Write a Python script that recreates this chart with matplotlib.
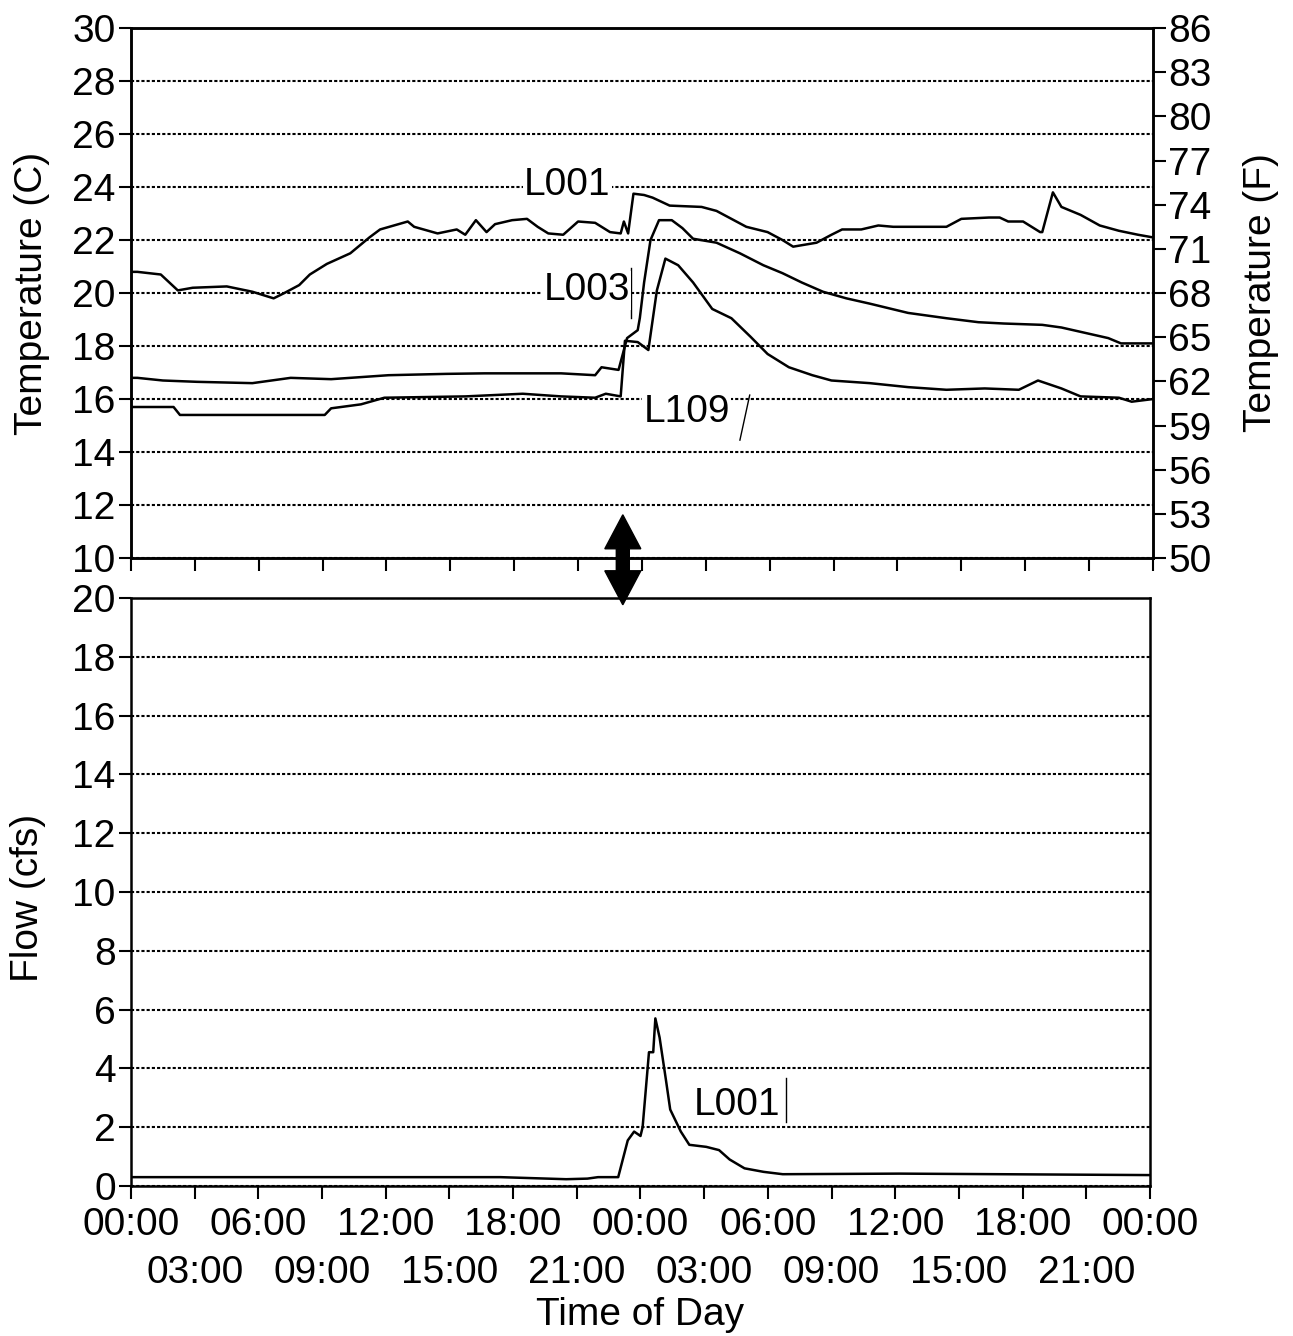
import matplotlib
matplotlib.use("Agg")
import matplotlib.pyplot as plt
from matplotlib.ticker import MultipleLocator
from matplotlib.patches import FancyArrow

plt.rcParams['font.family'] = ['Liberation Sans', 'DejaVu Sans']
plt.rcParams['font.size'] = 28

# ---- data (hours from start, values) ----
t_l001 = [0, 0.3, 1.4, 2.2, 2.9, 4.5, 5.7, 6.7, 7.2, 7.9, 8.4, 9.2, 10.3, 11.2, 11.7,
          13.0, 13.3, 14.4, 15.3, 15.7, 16.2, 16.7, 17.1, 17.9, 18.6, 19.1, 19.6, 20.3,
          21.0, 21.8, 22.5, 23.0, 23.15, 23.35, 23.6, 24.1, 24.5, 25.3, 26.8, 27.5, 28.2,
          28.9, 29.9, 30.6, 31.1, 32.2, 32.9, 33.4, 34.3, 35.1, 35.8, 38.3, 39.0, 40.3,
          40.8, 41.2, 41.9, 42.7, 42.8, 43.3, 43.7, 44.6, 45.5, 46.4, 47.3, 48.0]
c_l001 = [20.8, 20.8, 20.7, 20.1, 20.2, 20.25, 20.05, 19.8, 20.0, 20.3, 20.7, 21.1, 21.5,
          22.1, 22.4, 22.7, 22.5, 22.25, 22.4, 22.2, 22.75, 22.3, 22.6, 22.75, 22.8, 22.5,
          22.25, 22.2, 22.7, 22.65, 22.3, 22.25, 22.7, 22.25, 23.75, 23.7, 23.6, 23.3,
          23.25, 23.1, 22.8, 22.5, 22.3, 22.0, 21.75, 21.9, 22.2, 22.4, 22.4, 22.55, 22.5,
          22.5, 22.8, 22.85, 22.85, 22.7, 22.7, 22.3, 22.3, 23.8, 23.25, 22.95, 22.55,
          22.35, 22.2, 22.1]

t_l003 = [0, 0.3, 1.5, 3.1, 5.7, 7.5, 9.4, 12.1, 14.8, 16.6, 20.2, 21.8, 22.1, 22.9, 23.3,
          23.8, 23.9, 24.1, 24.4, 24.8, 25.4, 25.9, 26.4, 27.5, 28.6, 29.7, 30.6, 31.5,
          32.5, 33.6, 34.7, 36.5, 38.3, 39.8, 41.0, 42.8, 43.7, 44.8, 45.9, 46.5, 48.0]
c_l003 = [16.8, 16.8, 16.7, 16.65, 16.6, 16.8, 16.75, 16.9, 16.95, 16.97, 16.97, 16.9,
          17.2, 17.1, 18.3, 18.6, 19.06, 20.4, 22.0, 22.75, 22.75, 22.45, 22.05, 21.9,
          21.5, 21.05, 20.75, 20.4, 20.05, 19.8, 19.6, 19.25, 19.05, 18.9, 18.85, 18.8,
          18.7, 18.5, 18.3, 18.1, 18.1]

t_l109 = [0, 2.0, 2.3, 5.7, 9.1, 9.4, 10.8, 11.9, 15.7, 18.4, 20.2, 21.8, 22.3, 23.0,
          23.2, 23.8, 24.3, 24.7, 25.1, 25.7, 26.4, 27.3, 28.2, 29.1, 29.9, 30.9, 32.0,
          32.9, 34.7, 36.5, 38.3, 40.1, 41.7, 42.6, 43.7, 44.6, 46.4, 47.0, 48.0]
c_l109 = [15.7, 15.7, 15.4, 15.4, 15.4, 15.65, 15.8, 16.05, 16.1, 16.2, 16.1, 16.05, 16.2,
          16.1, 18.2, 18.15, 17.85, 20.1, 21.3, 21.05, 20.4, 19.4, 19.05, 18.35, 17.7,
          17.2, 16.9, 16.7, 16.6, 16.45, 16.35, 16.4, 16.35, 16.7, 16.4, 16.1, 16.05,
          15.9, 16.0]

t_flow = [0, 17.4, 20.5, 21.5, 22.0, 22.95, 23.4, 23.7, 24.0, 24.1, 24.4, 24.6, 24.7,
          24.9, 25.2, 25.4, 25.9, 26.3, 27.1, 27.7, 28.2, 28.9, 29.8, 30.7, 36.2, 48.0]
q_flow = [0.3, 0.3, 0.23, 0.25, 0.3, 0.3, 1.55, 1.85, 1.7, 2.0, 4.55, 4.55, 5.7, 5.05,
          3.6, 2.6, 1.85, 1.4, 1.33, 1.22, 0.9, 0.6, 0.48, 0.4, 0.42, 0.37]

major_ticks = list(range(0, 49, 6))
major_labels = ["00:00", "06:00", "12:00", "18:00", "00:00", "06:00", "12:00", "18:00", "00:00"]
minor_ticks = list(range(3, 48, 6))
minor_labels = ["03:00", "09:00", "15:00", "21:00", "03:00", "09:00", "15:00", "21:00"]
f_ticks = list(range(50, 87, 3))

# label text, text position, leader line (x0, x1, y0, y1)
temp_labels = [("L001", 20.5, 24.08, (22.4, 22.4, 24.64, 23.5)),
               ("L003", 21.4, 20.1, (23.5, 23.5, 20.94, 19.06)),
               ("L109", 26.1, 15.5, (29.06, 28.6, 16.15, 14.45))]
flow_label = ("L001", 28.55, 2.76, (30.85, 30.85, 3.67, 2.18))
arrow_time = 23.1

fig = plt.figure(figsize=(12.93, 13.36), dpi=100)
pos_top = [0.1013, 0.5823, 0.7904, 0.3967]
pos_bot = [0.1013, 0.1123, 0.7881, 0.4401]
ax1 = fig.add_axes(pos_top)
ax3 = fig.add_axes(pos_bot)

grid_kw = dict(color="black", linestyle=(0, (1.5, 1)), linewidth=1.5)
tick_kw = dict(direction="out", length=9, width=1.5, pad=2)

# ---- top: temperature ----
for t, c in [(t_l001, c_l001), (t_l003, c_l003), (t_l109, c_l109)]:
    ax1.plot(t, c, color="black", lw=1.8)
ax1.set_xlim(0, 48)
ax1.set_ylim(10, 30)
ax1.yaxis.set_major_locator(MultipleLocator(2))
ax1.xaxis.set_major_locator(MultipleLocator(3))
ax1.set_xticklabels([])
ax1.grid(axis="y", **grid_kw)
ax1.tick_params(**tick_kw)
ax1.set_ylabel("Temperature (C)")
ax1.yaxis.set_label_coords(-0.079, 0.5)

for name, tx, ty, (x0, x1, y0, y1) in temp_labels:
    ax1.text(tx, ty, name, ha="center", va="center",
             bbox=dict(facecolor="white", edgecolor="none", pad=1))
    ax1.plot([x0, x1], [y0, y1], color="black", lw=1)

ax2 = ax1.twinx()
ax2.set_ylim(50, 86)
ax2.set_yticks(f_ticks)
ax2.tick_params(**tick_kw)
ax2.set_ylabel("Temperature (F)")
ax2.yaxis.set_label_coords(1.088, 0.5)

# ---- bottom: flow ----
ax3.plot(t_flow, q_flow, color="black", lw=1.8)
ax3.set_xlim(0, 48)
ax3.set_ylim(0, 20)
ax3.yaxis.set_major_locator(MultipleLocator(2))
ax3.set_xticks(major_ticks)
ax3.set_xticklabels(major_labels)
ax3.set_xticks(minor_ticks, minor=True)
ax3.set_xticklabels(minor_labels, minor=True)
ax3.grid(axis="y", **grid_kw)
ax3.tick_params(**tick_kw)
ax3.tick_params(axis="x", which="major", pad=6)
ax3.tick_params(axis="x", which="minor", direction="out", length=9, width=1.5, pad=41)
ax3.set_ylabel("Flow (cfs)")
ax3.yaxis.set_label_coords(-0.083, 0.49)
ax3.set_xlabel("Time of Day")
ax3.xaxis.set_label_coords(0.5, -0.189)

name, tx, ty, (x0, x1, y0, y1) = flow_label
ax3.text(tx, ty, name, ha="center", va="center",
         bbox=dict(facecolor="white", edgecolor="none", pad=1))
ax3.plot([x0, x1], [y0, y1], color="black", lw=1)

for a in (ax1, ax2, ax3):
    for s in a.spines.values():
        s.set_linewidth(1.8)

# double arrow between the panels (inches, from the figure's lower-left corner)
fw, fh = fig.get_size_inches()
ax_x = fw * (pos_top[0] + pos_top[2] * arrow_time / 48)
y_mid = fh * 0.581
for dy in (0.45, -0.45):
    fig.add_artist(FancyArrow(ax_x, y_mid, 0, dy, width=0.13, head_width=0.36,
                              head_length=0.34, length_includes_head=True,
                              color="black", transform=fig.dpi_scale_trans))

fig.savefig("out.png", dpi=100)
